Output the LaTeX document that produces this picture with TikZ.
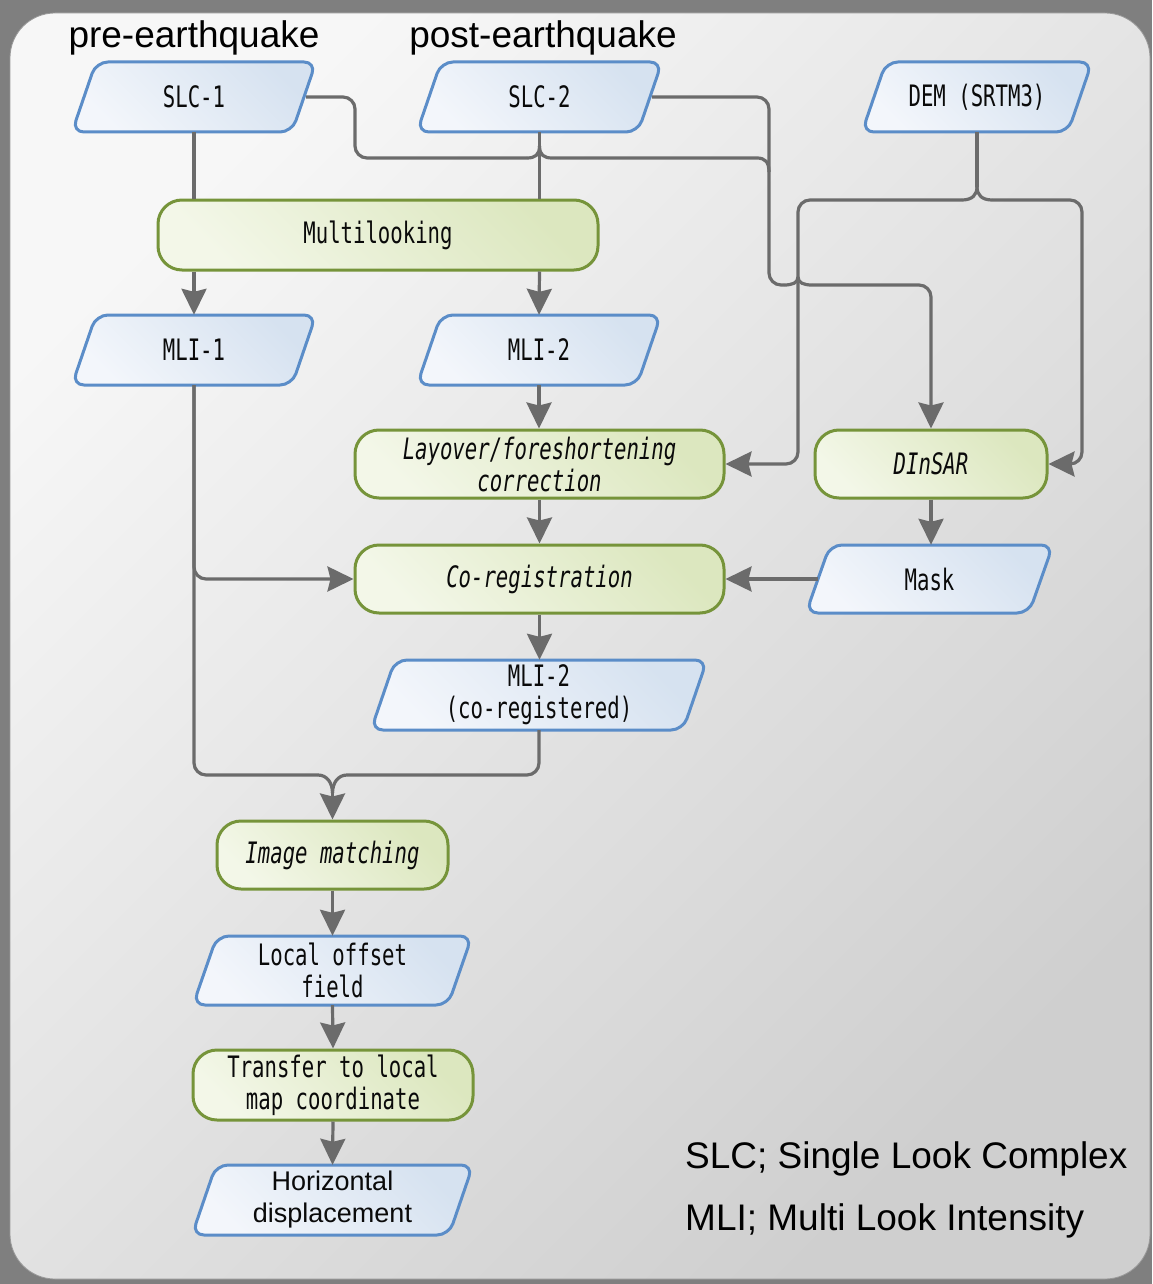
\documentclass[tikz,border=0pt]{standalone}
\usepackage{fontspec}
\setmainfont{Liberation Sans}
\newfontfamily\gfont[FakeStretch=0.70]{DejaVu Sans Mono}
\usetikzlibrary{arrows.meta}
\definecolor{conncol}{HTML}{6B6B6B}
\definecolor{bgout}{HTML}{7F7F7F}
\definecolor{panelA}{HTML}{F7F7F7}
\definecolor{panelB}{HTML}{CFCFCF}
\definecolor{blueedge}{HTML}{5B8DC8}
\definecolor{bluefillA}{HTML}{D6E2F0}
\definecolor{bluefillB}{HTML}{F3F6FB}
\definecolor{greenedge}{HTML}{76943A}
\definecolor{greenfillA}{HTML}{DCE7BF}
\definecolor{greenfillB}{HTML}{F3F7E8}
\definecolor{txt}{HTML}{0A0A0A}
\tikzset{
  conn/.style={draw=conncol, line width=3.2pt},
  arr/.style={conn, -{Stealth[length=26pt,width=25pt,inset=3pt]}},
  datashape/.style={draw=blueedge, line width=3pt, top color=bluefillA, bottom color=bluefillB, shading angle=-45, rounded corners=12pt},
  databox/.style={inner sep=0pt, text=txt, align=center, font=\gfont\fontsize{29.5}{32}\selectfont},
  procbox/.style={draw=greenedge, line width=3pt, top color=greenfillA, bottom color=greenfillB, shading angle=-45, rounded corners=24pt, inner sep=0pt, text=txt, align=center, font=\gfont\fontsize{29.5}{32}\selectfont},
  title/.style={text=black, font=\fontsize{37}{40}\selectfont, inner sep=0pt},
}
% name, x0, x1, ytop, ybot, text
\newcommand\datanode[6]{%
  \path[datashape] ({(#2+#3)/2},#4) -- (#3,#4) -- ({#3-24},#5) -- (#2,#5) -- ({#2+24},#4) -- cycle;
  \node[databox, minimum width={(#3-#2)*1pt}, minimum height={(#5-#4)*1pt}] (#1) at ({(#2+#3)/2},{(#4+#5)/2}) {#6};
}
\newcommand\procnode[6]{%
  \node[procbox, minimum width={(#3-#2)*1pt}, minimum height={(#5-#4)*1pt}] (#1) at ({(#2+#3)/2},{(#4+#5)/2}) {#6};
}
\begin{document}
\begin{tikzpicture}[x=1pt,y=-1pt]
\useasboundingbox (0,0) rectangle (1152,1284);
\fill[bgout] (0,0) rectangle (1152,1284);
\path[top color=panelA, bottom color=panelB, shading angle=45, rounded corners=45pt, draw=black!40, line width=0.8pt] (10,13) rectangle (1150,1279);

% titles
\node[title, anchor=base] (pre) at (194,48) {pre-earthquake};
\node[title, anchor=base] (post) at (543,48) {post-earthquake};

% data nodes
\datanode{slc1}{72}{316}{62}{132}{SLC-1}
\datanode{slc2}{417}{662}{62}{132}{SLC-2}
\datanode{dem}{862}{1092}{62}{132}{DEM (SRTM3)}
\procnode{multi}{158}{598}{200}{270}{Multilooking}
\datanode{mli1}{72}{316}{315}{385}{MLI-1}
\datanode{mli2}{417}{661}{315}{385}{MLI-2}
\procnode{layover}{355}{724}{430}{498}{\itshape Layover/foreshortening\\\itshape correction}
\procnode{dinsar}{815}{1047}{430}{498}{\itshape DInSAR}
\procnode{coreg}{355}{724}{545}{613}{\itshape Co-registration}
\datanode{mask}{806}{1053}{545}{613}{Mask}
\datanode{mlitwoc}{371}{707}{660}{730}{MLI-2\\(co-registered)}
\procnode{img}{217}{448}{821}{889}{\itshape Image matching}
\datanode{local}{193}{472}{936}{1005}{Local offset\\field}
\procnode{transfer}{193}{473}{1050}{1120}{Transfer to local\\map coordinate}
\datanode{horiz}{192}{473}{1165}{1235}{\fontsize{27}{29}\selectfont\rmfamily Horizontal\\\fontsize{27}{29}\selectfont\rmfamily displacement}

% legend
\node[title, anchor=base west] (leg1) at (685,1168) {SLC; Single Look Complex};
\node[title, anchor=base west] (leg2) at (685,1230) {MLI; Multi Look Intensity};

% connectors: SLC -> Multilooking -> MLI
\draw[conn] (slc1.south) -- (slc1.south |- multi.north);
\draw[arr] (slc1.south |- multi.south) -- (mli1.north);
\draw[conn] (slc2.south) -- (slc2.south |- multi.north);
\draw[arr] (slc2.south |- multi.south) -- (mli2.north);

% SLC-1 and SLC-2 -> DInSAR
\coordinate (j1) at (539.5,146);
\coordinate (j2) at (769,172);
\coordinate (j3) at (798,277);
\draw[conn, rounded corners=12pt] ([xshift=-10pt]slc1.east) -| (355,158) -- (527,158);
\draw[conn] (527,158) .. controls (535,158) and (539.5,155) .. (j1);
\draw[conn] (j1) .. controls (539.5,155) and (544,158) .. (552,158) -- (757,158) .. controls (765,158) and (769,162) .. (j2);
\draw[conn, rounded corners=12pt] ([xshift=-10pt]slc2.east) -| (769,285) -- (784,285);
\draw[conn] (784,285) .. controls (792,285) and (798,283) .. (j3);
\draw[conn] (j3) .. controls (798,283) and (804,285) .. (812,285);
\draw[arr, rounded corners=12pt] (812,285) -| (dinsar.north);

% DEM branches
\coordinate (jd) at (977,187);
\draw[conn] (dem.south) -- (jd);
\draw[conn] (jd) .. controls (977,195) and (972,200) .. (962,200);
\draw[arr, rounded corners=12pt] (962,200) -| (798,464) -- (layover.east);
\draw[conn] (jd) .. controls (977,195) and (982,200) .. (992,200);
\draw[arr, rounded corners=12pt] (992,200) -| (1082,464) -- (dinsar.east);

% main chain
\draw[arr] (mli2.south) -- (mli2.south |- layover.north);
\draw[arr] (layover.south) -- (coreg.north);
\draw[arr] (dinsar.south) -- (dinsar.south |- mask.north);
\draw[arr] ([xshift=12pt]mask.west) -- (coreg.east);
\draw[arr] (coreg.south) -- (coreg.south |- mlitwoc.north);

% MLI-1 -> Co-registration
\draw[arr, rounded corners=12pt] (mli1.south) |- (coreg.west);

% merge into Image matching
\coordinate (jm) at (332.5,793);
\draw[conn, rounded corners=12pt] (mli1.south) |- (318,775);
\draw[conn] (318,775) .. controls (327,775) and (332.5,783) .. (jm);
\draw[conn, rounded corners=12pt] (mlitwoc.south) |- (347,775);
\draw[conn] (347,775) .. controls (338,775) and (332.5,783) .. (jm);
\draw[arr] (jm) -- (img.north);

% lower chain
\draw[arr] (img.south) -- (local.north);
\draw[arr] (local.south) -- (transfer.north);
\draw[arr] (transfer.south) -- (horiz.north);
\end{tikzpicture}
\end{document}
